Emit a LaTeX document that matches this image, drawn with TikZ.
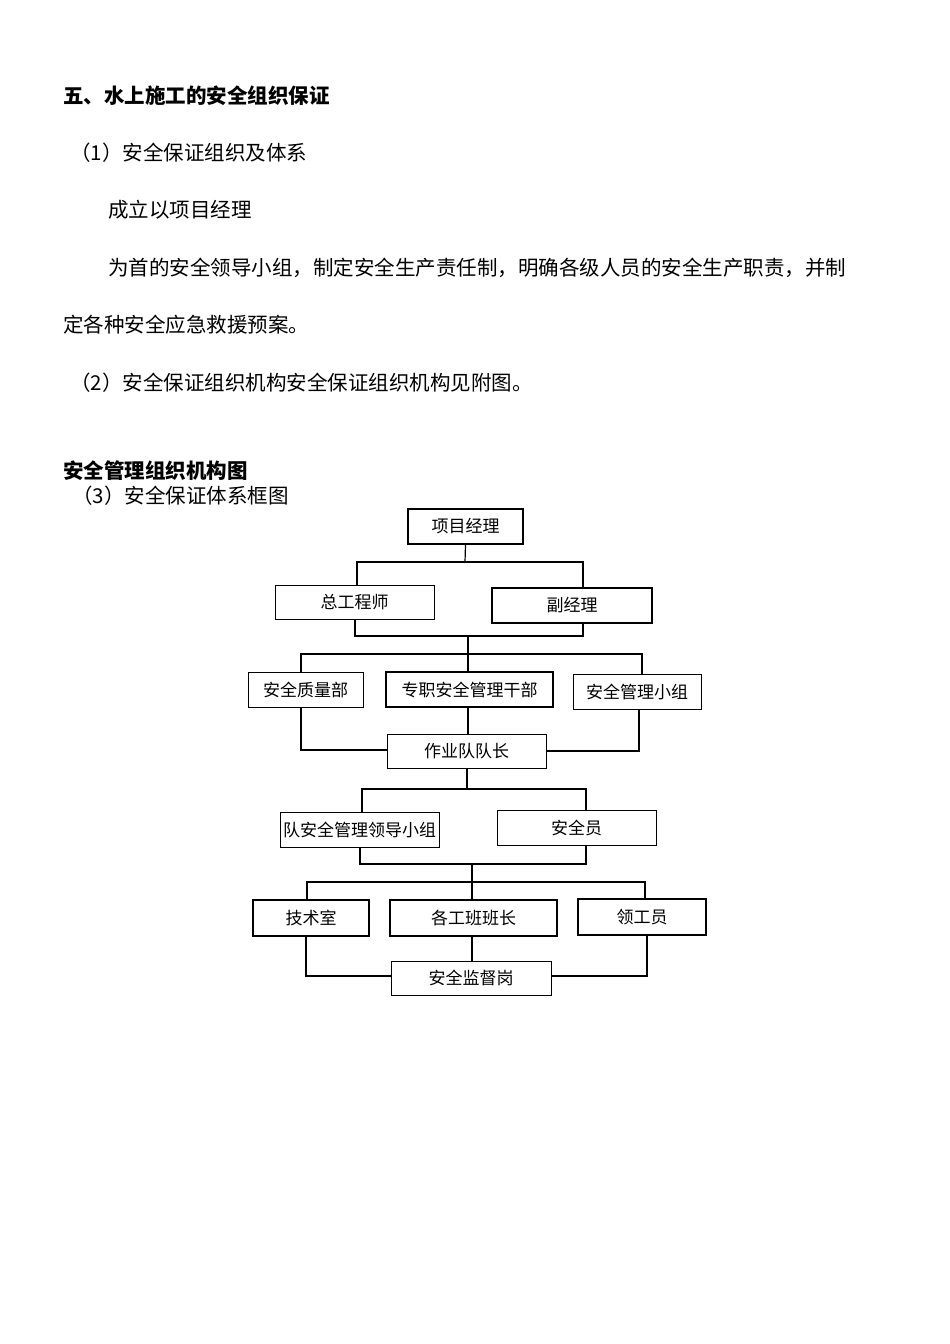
\documentclass[tikz,border=0pt]{standalone}
\usepackage{fontspec}
\setmainfont{Noto Sans CJK SC}
\XeTeXlinebreaklocale "zh"
\XeTeXlinebreakskip=0pt plus 2pt
\begin{document}
\begin{tikzpicture}[x=1pt,y=-1pt,
  bx/.style={draw,line width=1pt,rectangle,inner sep=0pt,font=\fontsize{17}{17}\selectfont},
  tk/.style={bx,line width=1.6pt},
  ln/.style={line width=1.2pt},
  tx/.style={anchor=west,inner sep=0pt,font=\fontsize{20.5}{20.5}\selectfont}]
\useasboundingbox (0,0) rectangle (950,1344);
\node[tx,font=\fontsize{20.5}{20.5}\selectfont\bfseries] (h1) at (63,96) {五、水上施工的安全组织保证};
\node[tx] (t1) at (70,153) {（1）安全保证组织及体系};
\node[tx] (t2) at (108,210) {成立以项目经理};
\node[tx] (t3) at (108,268) {\hbox to 765pt{为首的安全领导小组，制定安全生产责任制，明确各级人员的安全生产职责，并制}};
\node[tx] (t4) at (63,325) {定各种安全应急救援预案。};
\node[tx] (t5) at (70,383) {（2）安全保证组织机构安全保证组织机构见附图。};
\node[tx,font=\fontsize{20.5}{20.5}\selectfont\bfseries] (h2) at (63,471) {安全管理组织机构图};
\node[tx] (t6) at (72,496) {（3）安全保证体系框图};
% boxes
\newcommand\bxat[7]{\node[#1,minimum width=#5-#3,minimum height=#6-#4] (#2) at ({(#3+#5)/2},{(#4+#6)/2}) {#7};}
\bxat{tk}{pm}{408}{509}{523}{544}{项目经理}
\bxat{bx}{ce}{275}{585}{434}{619}{总工程师}
\bxat{tk}{dm}{492}{588}{652}{623}{副经理}
\bxat{bx}{qd}{248}{672}{363}{707}{安全质量部}
\bxat{tk}{zz}{386}{672}{553}{707}{专职安全管理干部}
\bxat{bx}{sg}{573}{674}{701}{709}{安全管理小组}
\bxat{bx}{cap}{387}{734}{546}{768}{作业队队长}
\bxat{bx}{lg}{280}{812}{439}{847}{队安全管理领导小组}
\bxat{bx}{so}{497}{810}{656}{845}{安全员}
\bxat{tk}{js}{253}{900}{369}{936}{技术室}
\bxat{tk}{bz}{390}{900}{557}{936}{各工班班长}
\bxat{tk}{lgy}{578}{899}{706}{935}{领工员}
\bxat{bx}{jd}{391}{961}{551}{995}{安全监督岗}
% connectors
\coordinate (a1) at (465,562);
\draw[ln] (pm.south) -- (a1);
\draw[ln] (ce.north -| 357,0) |- (a1) -| (dm.north -| 583,0);
\coordinate (a2) at (468,636);
\draw[ln] (ce.south -| 355,0) |- (a2) -| (dm.south -| 583,0);
\coordinate (a3) at (468,654);
\draw[ln] (a2) -- (zz.north -| a2);
\draw[ln] (qd.north -| 301,0) |- (a3) -| (sg.north -| 642,0);
\draw[ln] (qd.south -| 301,0) |- (cap.west |- 0,750);
\draw[ln] (sg.south -| 639,0) |- (cap.east |- 0,751);
\draw[ln] (zz.south -| 468,0) -- (cap.north -| 468,0);
\coordinate (a4) at (467,789);
\draw[ln] (cap.south -| a4) -- (a4);
\draw[ln] (lg.north -| 362,0) |- (a4) -| (so.north -| 586,0);
\coordinate (a5) at (472,864);
\draw[ln] (lg.south -| 360,0) |- (a5) -| (so.south -| 586,0);
\coordinate (a6) at (472,882);
\draw[ln] (a5) -- (bz.north -| a5);
\draw[ln] (js.north -| 307,0) |- (a6) -| (lgy.north -| 645,0);
\draw[ln] (js.south -| 306,0) |- (jd.west |- 0,976);
\draw[ln] (lgy.south -| 647,0) |- (jd.east |- 0,976);
\draw[ln] (bz.south -| 472,0) -- (jd.north -| 472,0);
\end{tikzpicture}
\end{document}
